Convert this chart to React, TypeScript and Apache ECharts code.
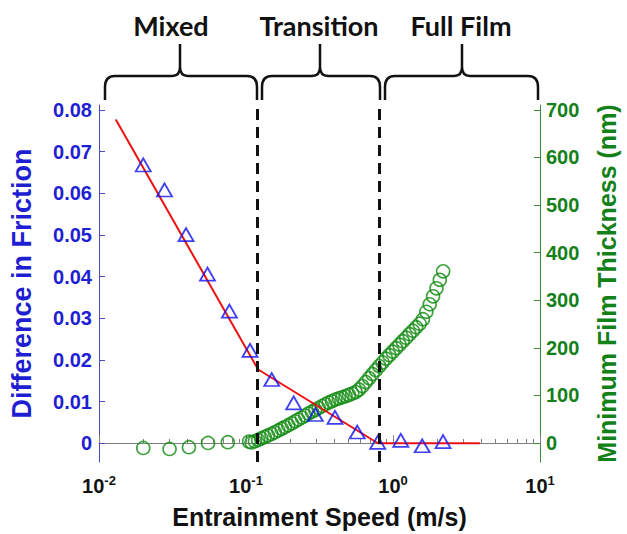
import React, { useEffect, useRef } from "react";
import * as echarts from "echarts";

// Friction difference (left axis) vs entrainment speed (m/s)
const frictionSpeed = [0.02, 0.0279, 0.0391, 0.0547, 0.0771, 0.1065, 0.1497, 0.211, 0.296, 0.403, 0.571, 0.787, 1.13, 1.58, 2.19];
const frictionDiff = [0.0668, 0.0608, 0.0501, 0.0406, 0.0317, 0.0223, 0.0153, 0.0097, 0.0069, 0.0062, 0.0027, 0.0002, 0.0007, -0.0006, 0.0004];

// Piecewise fit (red line)
const fitSpeed = [0.013, 0.121, 0.79, 3.9];
const fitDiff = [0.0777, 0.0177, 0.0, 0.0];

// Minimum film thickness (right axis, nm)
const filmSpeed = [
  0.02, 0.0302, 0.0409, 0.0552, 0.0752, 0.105,
  0.109, 0.115, 0.121, 0.127, 0.134, 0.141, 0.149, 0.157, 0.166, 0.175,
  0.184, 0.194, 0.205, 0.216, 0.227, 0.24, 0.253, 0.266, 0.281, 0.296,
  0.312, 0.329, 0.347, 0.365, 0.385, 0.406, 0.428, 0.451, 0.476, 0.501,
  0.528, 0.557, 0.587, 0.619, 0.653, 0.688, 0.725, 0.764, 0.806, 0.849,
  0.895, 0.944, 0.995, 1.049, 1.106, 1.165, 1.229, 1.295, 1.365, 1.439,
  1.517, 1.599, 1.686, 1.777, 1.873, 1.975, 2.082, 2.194,
];
const filmThickness = [
  -10.5, -12.6, -9, 0, 1.5, 2.7,
  1.0, 3.6, 6.3, 9.4, 12.6, 15.7, 18.9, 22.4, 26.2, 30.0,
  33.5, 37.3, 41.3, 45.5, 49.3, 53.4, 57.6, 61.8, 65.6, 69.6,
  73.4, 77.6, 81.3, 84.9, 88.0, 91.2, 93.7, 96.0, 98.5, 101.0,
  103.8, 106.9, 112.1, 119.5, 127.9, 136.2, 144.6, 153.0, 161.4, 169.1,
  177.1, 184.4, 191.8, 199.1, 206.5, 213.8, 221.1, 228.5, 235.8, 243.1,
  250.5, 259.9, 275.6, 291.3, 308.1, 324.9, 342.7, 360.5,
];

// Regime boundaries (dashed lines)
const regimeBounds = [0.121, 0.8];
const regimeLabels = ["Mixed", "Transition", "Full Film"];

// Tick values
const leftTicks = [0, 0.01, 0.02, 0.03, 0.04, 0.05, 0.06, 0.07, 0.08];
const rightTicks = [0, 100, 200, 300, 400, 500, 600, 700];
const xMinorTicks = [
  0.02, 0.03, 0.04, 0.05, 0.06, 0.07, 0.08, 0.09,
  0.2, 0.3, 0.4, 0.5, 0.6, 0.7, 0.8, 0.9,
  2, 3, 4, 5, 6, 7, 8, 9,
];

const BLUE = "#1e1ed2";
const GREEN = "#13801a";
const FONT = "'Liberation Sans', Arial, sans-serif";

const braces = [
  { name: "braceMixed", l: 105, c: 180, r: 257 },
  { name: "braceTrans", l: 262, c: 320, r: 380 },
  { name: "braceFull", l: 385, c: 462, r: 538 },
];
const bracePath = (l: number, c: number, r: number) =>
  `M${l} 100 L${l} 87 Q${l} 76 ${l + 10} 76 L${c - 8} 76 Q${c} 76 ${c} 67 L${c} 44 ` +
  `M${c} 67 Q${c} 76 ${c + 8} 76 L${r - 10} 76 Q${r} 76 ${r} 87 L${r} 100`;
braces.forEach((b) => {
  echarts.graphic.registerShape(b.name, echarts.graphic.extendPath(bracePath(b.l, b.c, b.r), {}));
});

export default function App() {
  const ref = useRef<HTMLDivElement>(null);
  useEffect(() => {
    if (!ref.current) return;
    const chart = echarts.init(ref.current, undefined, { renderer: "svg" });
    const option: any = {
      animation: false,
      backgroundColor: "#ffffff",
      textStyle: { fontFamily: FONT },
      grid: { left: 98, right: 83, top: 105, bottom: 71, containLabel: false },
      xAxis: [
        {
          type: "log",
          logBase: 10,
          min: 0.01,
          max: 10,
          position: "bottom",
          axisLine: { show: true, lineStyle: { color: "#808080", width: 1 } },
          axisTick: { show: true, inside: true, length: 8, lineStyle: { color: "#808080" } },
          splitLine: { show: false },
          axisLabel: {
            margin: 12,
            formatter: (v: number) => `{b|10}{s|${Math.round(Math.log10(v))}}`,
            rich: {
              b: { fontSize: 20, fontWeight: "bold", color: "#111", fontFamily: FONT, lineHeight: 24 },
              s: { fontSize: 13, fontWeight: "bold", color: "#111", fontFamily: FONT, verticalAlign: "top", lineHeight: 14 },
            },
          },
          name: "Entrainment Speed (m/s)",
          nameLocation: "middle",
          nameGap: 42,
          nameTextStyle: { fontSize: 25, fontWeight: "bold", color: "#111", fontFamily: FONT },
        },
        {
          type: "log",
          logBase: 10,
          min: 0.01,
          max: 10,
          position: "bottom",
          axisLine: { show: false },
          axisLabel: { show: false },
          splitLine: { show: false },
          axisTick: { show: true, inside: true, length: 4, customValues: xMinorTicks, lineStyle: { color: "#808080" } },
        },
      ],
      yAxis: [
        {
          type: "value",
          min: -0.0045,
          max: 0.0812,
          position: "left",
          axisLine: { show: true, lineStyle: { color: "#4a4ac0", width: 1 } },
          axisTick: { show: true, inside: true, length: 6, customValues: leftTicks, lineStyle: { color: "#4a4ac0" } },
          splitLine: { show: false },
          axisLabel: {
            customValues: leftTicks,
            margin: 7,
            color: BLUE,
            fontSize: 20,
            fontWeight: "bold",
            fontFamily: FONT,
            formatter: (v: number) => (Math.abs(v) < 1e-9 ? "0" : v.toFixed(2)),
          },
          name: "Difference in Friction",
          nameLocation: "middle",
          nameGap: 64,
          nameTextStyle: { fontSize: 27, fontWeight: "bold", color: BLUE, fontFamily: FONT },
        },
        {
          type: "value",
          min: -40,
          max: 710,
          position: "right",
          axisLine: { show: true, lineStyle: { color: "#3a8a3a", width: 1 } },
          axisTick: { show: true, inside: true, length: 6, customValues: rightTicks, lineStyle: { color: "#3a8a3a" } },
          splitLine: { show: false },
          axisLabel: {
            customValues: rightTicks,
            margin: 6,
            color: GREEN,
            fontSize: 20,
            fontWeight: "bold",
            fontFamily: FONT,
          },
          name: "Minimum Film Thickness (nm)",
          nameLocation: "middle",
          nameGap: 54,
          nameTextStyle: { fontSize: 25, fontWeight: "bold", color: GREEN, fontFamily: FONT },
        },
      ],
      series: [
        {
          name: "Film thickness",
          type: "scatter",
          xAxisIndex: 0,
          yAxisIndex: 1,
          symbol: "circle",
          symbolSize: 13,
          z: 2,
          itemStyle: { color: "transparent", borderColor: "#108a10", borderWidth: 1.6 },
          data: filmSpeed.map((s, i) => [s, filmThickness[i]]),
        },
        {
          name: "Fit",
          type: "line",
          xAxisIndex: 0,
          yAxisIndex: 0,
          showSymbol: false,
          z: 3,
          lineStyle: { color: "#ee1010", width: 2 },
          data: fitSpeed.map((s, i) => [s, fitDiff[i]]),
        },
        {
          name: "Friction difference",
          type: "scatter",
          xAxisIndex: 0,
          yAxisIndex: 0,
          symbol: "triangle",
          symbolSize: [15, 13],
          z: 4,
          itemStyle: { color: "transparent", borderColor: "#1010f0", borderWidth: 1.8 },
          data: frictionSpeed.map((s, i) => [s, frictionDiff[i]]),
          markLine: {
            silent: true,
            symbol: ["none", "none"],
            label: { show: false },
            z: 5,
            lineStyle: { color: "#111", type: [11, 7], width: 3 },
            data: regimeBounds.map((b) => ({ xAxis: b })),
          },
        },
      ],
      graphic: [
        ...braces.map((b) => ({
          type: b.name,
          x: 0,
          y: 0,
          silent: true,
          style: { stroke: "#111", lineWidth: 2.5, fill: "none" },
        })),
        ...braces.map((b, i) => ({
          type: "text",
          x: b.c - (i === 0 ? 9 : 1),
          y: 25,
          silent: true,
          style: {
            text: regimeLabels[i],
            fill: "#111",
            font: "bold 27px Lato, 'Open Sans', sans-serif",
            textAlign: "center",
            textVerticalAlign: "middle",
            align: "center",
            verticalAlign: "middle",
          },
        })),
      ],
    };
    chart.setOption(option);
    return () => chart.dispose();
  }, []);
  return (
    <div
      ref={ref}
      style={{ position: "fixed", left: 0, top: 0, width: 627, height: 534, background: "#fff" }}
    />
  );
}
